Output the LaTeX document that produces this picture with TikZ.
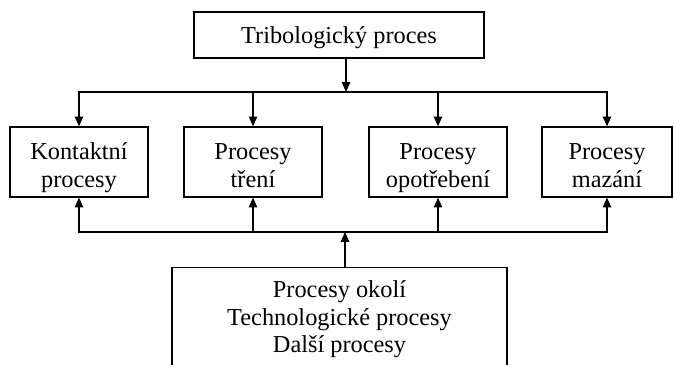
\documentclass[tikz,border=0pt]{standalone}
\usepackage{fontspec}
\setmainfont{Liberation Serif}
\usetikzlibrary{arrows.meta}
\tikzset{ln/.style={line width=0.9pt, line cap=rect, line join=miter},
  proc/.style={ln, draw, align=center, minimum width=3.45cm, minimum height=1.75cm, inner sep=0pt},
  arr/.style={ln, -{Triangle[length=7pt,width=6pt]}}}
\newcommand{\twol}[2]{\rule{0pt}{20pt}#1\\#2\rule[-4pt]{0pt}{4pt}}

\begin{document}
\begin{tikzpicture}[x=0.025cm, y=0.025cm, font=\fontsize{17.3}{19.6}\selectfont]
  \useasboundingbox (0,0) rectangle (674,365);
  \node[proc, minimum width=7.25cm, minimum height=1.15cm, text depth=0pt] (trib) at (339,330) {Tribologický proces};
  \node[proc] (kont) at (79,203) {\twol{Kontaktní}{procesy}};
  \node[proc] (tren) at (253,203) {\twol{Procesy}{tření}};
  \node[proc] (opot) at (438,203) {\twol{Procesy}{opotřebení}};
  \node[proc, minimum width=3.25cm] (maz) at (607,203) {\twol{Procesy}{mazání}};
  \node[proc, anchor=north, minimum width=8.375cm] (okol) at (339.5,98) {\rule{0pt}{21.3pt}Procesy okolí\\Technologické procesy\\Další procesy\rule[-20pt]{0pt}{0pt}};
  \coordinate (up) at (346,273);
  \coordinate (lo) at (345,133);
  \draw[ln] (kont |- up) -- (maz |- up);
  \draw[ln] (kont |- lo) -- (maz |- lo);
  \draw[arr] (trib.south -| up) -- (up);
  \draw[arr] (okol.north -| lo) -- (lo);
  \foreach \n in {kont,tren,opot,maz}{
    \draw[arr] (\n |- up) -- (\n.north);
    \draw[arr] (\n |- lo) -- (\n.south);}
\end{tikzpicture}
\end{document}
